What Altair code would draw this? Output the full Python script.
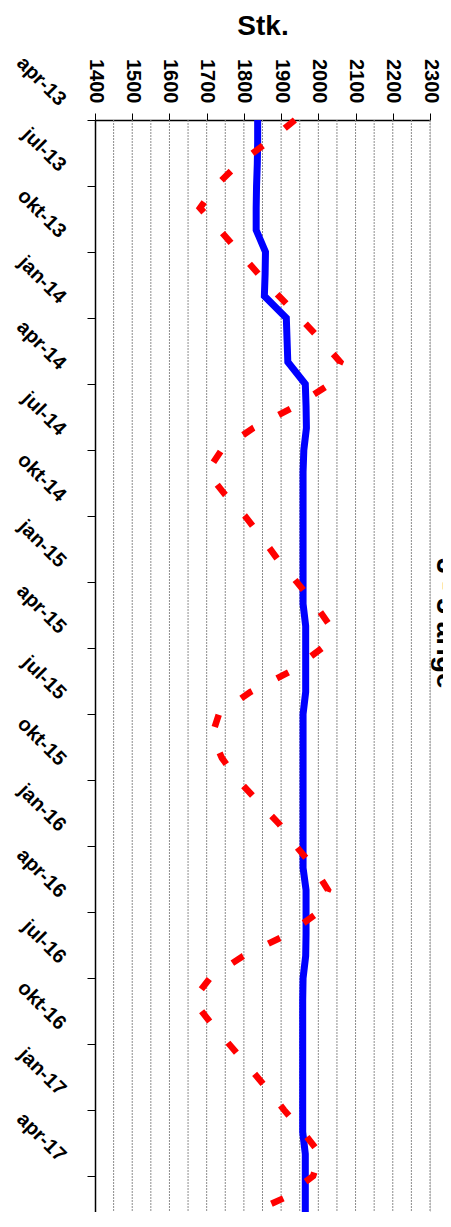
import altair as alt
import pandas as pd

# monthly series, apr-13 .. jun-17
months = [
    "apr-13", "maj-13", "jun-13", "jul-13", "aug-13", "sep-13", "okt-13", "nov-13", "dec-13",
    "jan-14", "feb-14", "mar-14", "apr-14", "maj-14", "jun-14", "jul-14", "aug-14", "sep-14",
    "okt-14", "nov-14", "dec-14", "jan-15", "feb-15", "mar-15", "apr-15", "maj-15", "jun-15",
    "jul-15", "aug-15", "sep-15", "okt-15", "nov-15", "dec-15", "jan-16", "feb-16", "mar-16",
    "apr-16", "maj-16", "jun-16", "jul-16", "aug-16", "sep-16", "okt-16", "nov-16", "dec-16",
    "jan-17", "feb-17", "mar-17", "apr-17", "maj-17", "jun-17",
]

actual = [
    1937, 1864, 1785, 1724, 1682, 1735, 1787, 1839, 1894, 1951, 2007, 2059,
    2032, 1940, 1825, 1740, 1701, 1748, 1803, 1849, 1892, 1942, 1990, 2032,
    2010, 1932, 1817, 1733, 1714, 1741, 1784, 1839, 1895, 1940, 1989, 2026,
    2002, 1919, 1798, 1709, 1663, 1709, 1760, 1811, 1861, 1908, 1959, 2005,
    1986, 1908, 1776,
]

trend = [
    1837, 1837, 1836, 1834, 1833, 1833, 1858, 1857, 1855, 1914, 1916, 1918,
    1965, 1967, 1968, 1961, 1959, 1959, 1959, 1959, 1959, 1959, 1959, 1966,
    1966, 1966, 1966, 1959, 1959, 1959, 1959, 1959, 1959, 1959, 1959, 1967,
    1967, 1967, 1966, 1959, 1958, 1958, 1958, 1958, 1958, 1958, 1958, 1965,
    1965, 1965, 1965,
]

month_ticks = months[::3]
value_ticks = list(range(1400, 2301, 100))
grid_values = list(range(1450, 2301, 50))

df = pd.DataFrame({"Måned": months, "Faktisk": actual, "Trend": trend})
grid_df = pd.DataFrame({"Stk": grid_values})

x_scale = alt.Scale(domain=[1400, 2300], nice=False, zero=False)

y_axis = alt.Axis(
    values=month_ticks, title=None, grid=False,
    labelAngle=45, labelAlign="right", labelBaseline="middle",
    labelOffset=-18, labelPadding=25, labelFontSize=20, labelFontWeight="bold",
    labelOverlap=False,
    tickSize=8, tickColor="black", domainColor="black", domainWidth=1.5,
)
y_enc = alt.Y("Måned:O", sort=months, scale=alt.Scale(type="point", padding=0), axis=y_axis)

x_axis = alt.Axis(
    orient="top", values=value_ticks, format="d", title="Stk.",
    titleFontSize=28, titleFontWeight="bold", titlePadding=18,
    labelAngle=90, labelAlign="right", labelBaseline="middle",
    labelFontSize=20, labelFontWeight="bold", labelPadding=10,
    labelOverlap=False, labelSeparation=0, labelBound=False,
    tickSize=7, tickColor="black", grid=False,
    domainColor="black", domainWidth=1.5,
)

gridlines = alt.Chart(grid_df).mark_rule(color="#8c8c8c", strokeWidth=1, strokeDash=[2, 1]).encode(
    x=alt.X("Stk:Q", scale=x_scale, axis=x_axis),
)

trend_line = alt.Chart(df).mark_line(color="#0000ff", strokeWidth=7).encode(
    x=alt.X("Trend:Q", scale=x_scale, axis=x_axis),
    y=y_enc,
)

actual_line = alt.Chart(df).mark_line(color="#ff0000", strokeWidth=6.5, strokeDash=[13, 28], strokeCap="butt").encode(
    x=alt.X("Faktisk:Q", scale=x_scale, axis=x_axis),
    y=y_enc,
)

chart = alt.layer(gridlines, trend_line, actual_line).properties(
    width=335,
    height=1100,
    title=alt.TitleParams("3 - 5 årige", orient="right", anchor="middle", frame="bounds",
                          fontSize=28, fontWeight="bold", offset=-9),
    autosize=alt.AutoSizeParams(type="none"),
    padding={"left": 87, "top": 112, "right": 13, "bottom": -8},
).configure_view(stroke=None).configure(
    font="Liberation Sans"
).configure_axis(
    labelFont="Liberation Sans", titleFont="Liberation Sans", labelColor="black", titleColor="black"
).configure_axisX(labelOverlap=False)

chart.save("out.html", embed_options={"renderer": "svg", "actions": False})
